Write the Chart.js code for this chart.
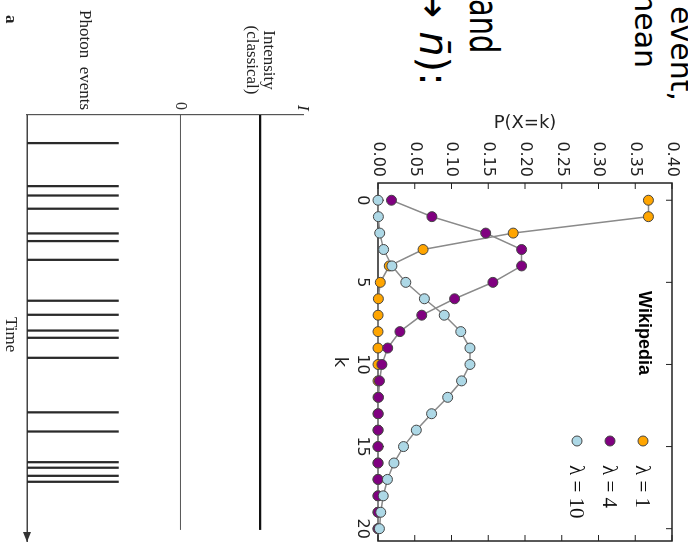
<!DOCTYPE html>
<html>
<head>
<meta charset="utf-8">
<script src="https://cdn.jsdelivr.net/npm/chart.js@4.4.1/dist/chart.umd.min.js"></script>
<style>
  html, body { margin: 0; padding: 0; background: #fff; overflow: hidden; width: 688px; height: 547px; }
  /* the whole scan is turned a quarter turn clockwise */
  #page { position: absolute; left: 0; top: 0; width: 547px; height: 688px; transform-origin: 0 0; transform: translateX(688px) rotate(90deg); background: #fff; }
  .slide { position: absolute; font-family: "DejaVu Sans", sans-serif; color: #000; white-space: nowrap; line-height: 1; }
  .serif { position: absolute; font-family: "Liberation Serif", serif; color: #222; white-space: nowrap; line-height: 1; font-size: 17px; }
  canvas { position: absolute; }
</style>
</head>
<body>
<div id="page">
  <div class="slide" style="left:-22px; top:-8px; font-size:30px">e event,</div>
  <div class="slide" style="left:-17px; top:28px; font-size:30px">mean</div>
  <div class="slide" style="left:-1px; top:184px; font-size:40px; transform:scaleX(0.72); transform-origin:0 0">and</div>
  <div class="slide" style="left:-15px; top:234px; font-size:40px">→ <i>n&#772;</i>):</div>

  <canvas id="poissonChart" width="447" height="360" style="left:100px; top:0"></canvas>
  <canvas id="photonChart" width="547" height="318" style="left:0; top:370px"></canvas>

  <div class="serif" style="left:0; width:120px; text-align:center; top:410px">Intensity</div>
  <div class="serif" style="left:0; width:120px; text-align:center; top:427px">(classical)</div>
  <div class="serif" style="left:105px; top:376px; font-style:italic">I</div>
  <div class="serif" style="left:10px; top:594px">Photon&nbsp; events</div>
  <div class="serif" style="left:317px; top:668px">Time</div>
  <div class="serif" style="left:15px; top:668px; font-weight:bold">a</div>
</div>

<script>
/* ---------- Poisson chart data ---------- */
const kValues = [0, 1, 2, 3, 4, 5, 6, 7, 8, 9, 10, 11, 12, 13, 14, 15, 16, 17, 18, 19, 20];
const kTicks = [0, 5, 10, 15, 20];
const pTicks = [0, 0.05, 0.10, 0.15, 0.20, 0.25, 0.30, 0.35, 0.40];

const seriesLabels = ["λ = 1", "λ = 4", "λ = 10"];
const lambda1 = [0.3679, 0.3679, 0.1839, 0.0613, 0.0153, 0.0031, 0.0005, 0.0001, 0, 0, 0, 0, 0, 0, 0, 0, 0, 0, 0, 0, 0];
const lambda4 = [0.0183, 0.0733, 0.1465, 0.1954, 0.1954, 0.1563, 0.1042, 0.0595, 0.0298, 0.0132, 0.0053, 0.0019, 0.0006, 0.0002, 0.0001, 0, 0, 0, 0, 0, 0];
const lambda10 = [0.0000, 0.0005, 0.0023, 0.0076, 0.0189, 0.0378, 0.0631, 0.0901, 0.1126, 0.1251, 0.1251, 0.1137, 0.0948, 0.0729, 0.0521, 0.0347, 0.0217, 0.0128, 0.0071, 0.0037, 0.0019];

/* ---------- photon diagram data ---------- */
const photonTimes = [6.6, 16.7, 18.9, 22.0, 27.8, 29.6, 34.0, 43.6, 46.9, 50.6, 52.3, 57.0, 69.8, 74.3, 81.5, 82.8, 84.7, 86.1];
const intensityLevels = [0, 1];
const intensityTicks = ["0"];

const seriesColors = ["#ffa500", "#800080", "#add8e6"];
const tickFont = { family: "DejaVu Sans", size: 16 };

function pairs(values) {
  return values.map((v, i) => ({ x: kValues[i], y: v }));
}

/* frame with inward ticks, legend and tag */
const framePlugin = {
  id: "frame",
  beforeDatasetsDraw(chart) {
    const { ctx, chartArea: a, scales: { x, y } } = chart;
    ctx.save();
    ctx.strokeStyle = "#222";
    ctx.lineWidth = 1.5;
    ctx.strokeRect(a.left, a.top, a.right - a.left, a.bottom - a.top);
    ctx.lineWidth = 1;
    ctx.beginPath();
    kTicks.forEach(v => {
      const px = x.getPixelForValue(v);
      ctx.moveTo(px, a.bottom); ctx.lineTo(px, a.bottom - 6);
      ctx.moveTo(px, a.top); ctx.lineTo(px, a.top + 6);
    });
    pTicks.forEach(v => {
      const py = y.getPixelForValue(v);
      ctx.moveTo(a.left, py); ctx.lineTo(a.left + 6, py);
      ctx.moveTo(a.right, py); ctx.lineTo(a.right - 6, py);
    });
    ctx.stroke();
    ctx.restore();
  },
  afterDatasetsDraw(chart) {
    const { ctx, chartArea: a } = chart;
    ctx.save();
    chart.data.datasets.forEach((ds, i) => {
      const cy = a.top + 29 + i * 33;
      ctx.beginPath();
      ctx.arc(a.right - 100, cy, 5, 0, Math.PI * 2);
      ctx.fillStyle = ds.backgroundColor;
      ctx.fill();
      ctx.lineWidth = 1;
      ctx.strokeStyle = ds.borderColor;
      ctx.stroke();
      ctx.fillStyle = "#111";
      ctx.font = "21px 'Liberation Serif'";
      ctx.textBaseline = "middle";
      ctx.textAlign = "left";
      ctx.fillText(ds.label, a.right - 76, cy + 1);
    });
    ctx.font = "bold 18px 'Liberation Sans'";
    ctx.fillStyle = "#000";
    ctx.textAlign = "center";
    ctx.textBaseline = "middle";
    ctx.fillText("Wikipedia", a.left + 150, a.top + 28);
    ctx.restore();
  }
};

new Chart(document.getElementById("poissonChart"), {
  type: "line",
  data: {
    datasets: [lambda1, lambda4, lambda10].map((vals, i) => ({
      label: seriesLabels[i],
      data: pairs(vals),
      order: 3 - i,
      borderColor: "#444",
      backgroundColor: seriesColors[i],
      pointBackgroundColor: seriesColors[i],
      pointBorderColor: "#444",
      pointBorderWidth: 1,
      pointRadius: 5,
      segment: { borderColor: "#8a8a8a" },
      borderWidth: 1.5,
      tension: 0,
      clip: false
    }))
  },
  options: {
    responsive: false,
    animation: false,
    events: [],
    layout: { padding: { top: 16, right: 4, left: 0, bottom: 0 } },
    plugins: { legend: { display: false }, tooltip: { enabled: false } },
    scales: {
      x: {
        type: "linear",
        min: -1.05,
        max: 20.75,
        grid: { display: false, drawTicks: false },
        border: { display: false },
        afterBuildTicks(s) { s.ticks = kTicks.map(v => ({ value: v })); },
        afterFit(s) { s.height = 50; },
        ticks: { font: tickFont, color: "#222", padding: 6, maxRotation: 0 },
        title: { display: true, text: "k", font: { family: "DejaVu Sans", size: 18 }, color: "#222", padding: { top: 1, bottom: 1 } }
      },
      y: {
        min: 0,
        max: 0.4,
        grid: { display: false, drawTicks: false },
        border: { display: false },
        afterBuildTicks(s) { s.ticks = pTicks.map(v => ({ value: v })); },
        afterFit(s) { s.width = 83; },
        ticks: { font: tickFont, color: "#222", padding: 6, callback: v => v.toFixed(2) },
        title: { display: true, text: "P(X=k)", font: { family: "DejaVu Sans", size: 18 }, color: "#222", padding: { top: 13, bottom: 0 } }
      }
    }
  },
  plugins: [framePlugin]
});

/* ---------- photon events / classical intensity ---------- */
const EVENT_BASE = -1.926;
const EVENT_TOP = -0.778;
const INTENSITY_END = 97.4;

const arrowPlugin = {
  id: "arrow",
  afterDraw(chart) {
    const { ctx, chartArea: a } = chart;
    ctx.save();
    ctx.fillStyle = "#333";
    ctx.beginPath();
    ctx.moveTo(a.right + 1, a.bottom);
    ctx.lineTo(a.right - 9, a.bottom - 4);
    ctx.lineTo(a.right - 9, a.bottom + 4);
    ctx.closePath();
    ctx.fill();
    ctx.restore();
  }
};

new Chart(document.getElementById("photonChart"), {
  type: "bar",
  data: {
    datasets: [
      {
        type: "bar",
        data: photonTimes.map(t => ({ x: t, y: [EVENT_BASE, EVENT_TOP] })),
        backgroundColor: "#2a2a2a",
        barThickness: 1.6,
        borderWidth: 0
      },
      {
        type: "line",
        data: [{ x: 0, y: intensityLevels[0] }, { x: INTENSITY_END, y: intensityLevels[0] }],
        borderColor: "#555",
        borderWidth: 1,
        pointRadius: 0
      },
      {
        type: "line",
        data: [{ x: 0, y: intensityLevels[1] }, { x: INTENSITY_END, y: intensityLevels[1] }],
        borderColor: "#111",
        borderWidth: 2.4,
        pointRadius: 0
      }
    ]
  },
  options: {
    responsive: false,
    animation: false,
    events: [],
    layout: { padding: { top: 10, right: 6, left: 0, bottom: 0 } },
    plugins: { legend: { display: false }, tooltip: { enabled: false } },
    scales: {
      x: {
        type: "linear",
        min: 0,
        max: 100,
        offset: false,
        grid: { display: false, drawTicks: false },
        border: { display: true, color: "#444", width: 1.5 },
        ticks: { display: false },
        afterFit(s) { s.height = 27; }
      },
      y: {
        type: "linear",
        min: -1.926,
        max: 1.543,
        grid: { display: false, drawTicks: false },
        border: { display: true, color: "#555", width: 1.2 },
        afterBuildTicks(s) { s.ticks = [{ value: intensityLevels[0] }]; },
        afterFit(s) { s.width = 115; },
        ticks: { font: { family: "Liberation Serif", size: 16 }, color: "#333", padding: 5, callback: () => intensityTicks[0] }
      }
    }
  },
  plugins: [arrowPlugin]
});
</script>
</body>
</html>
